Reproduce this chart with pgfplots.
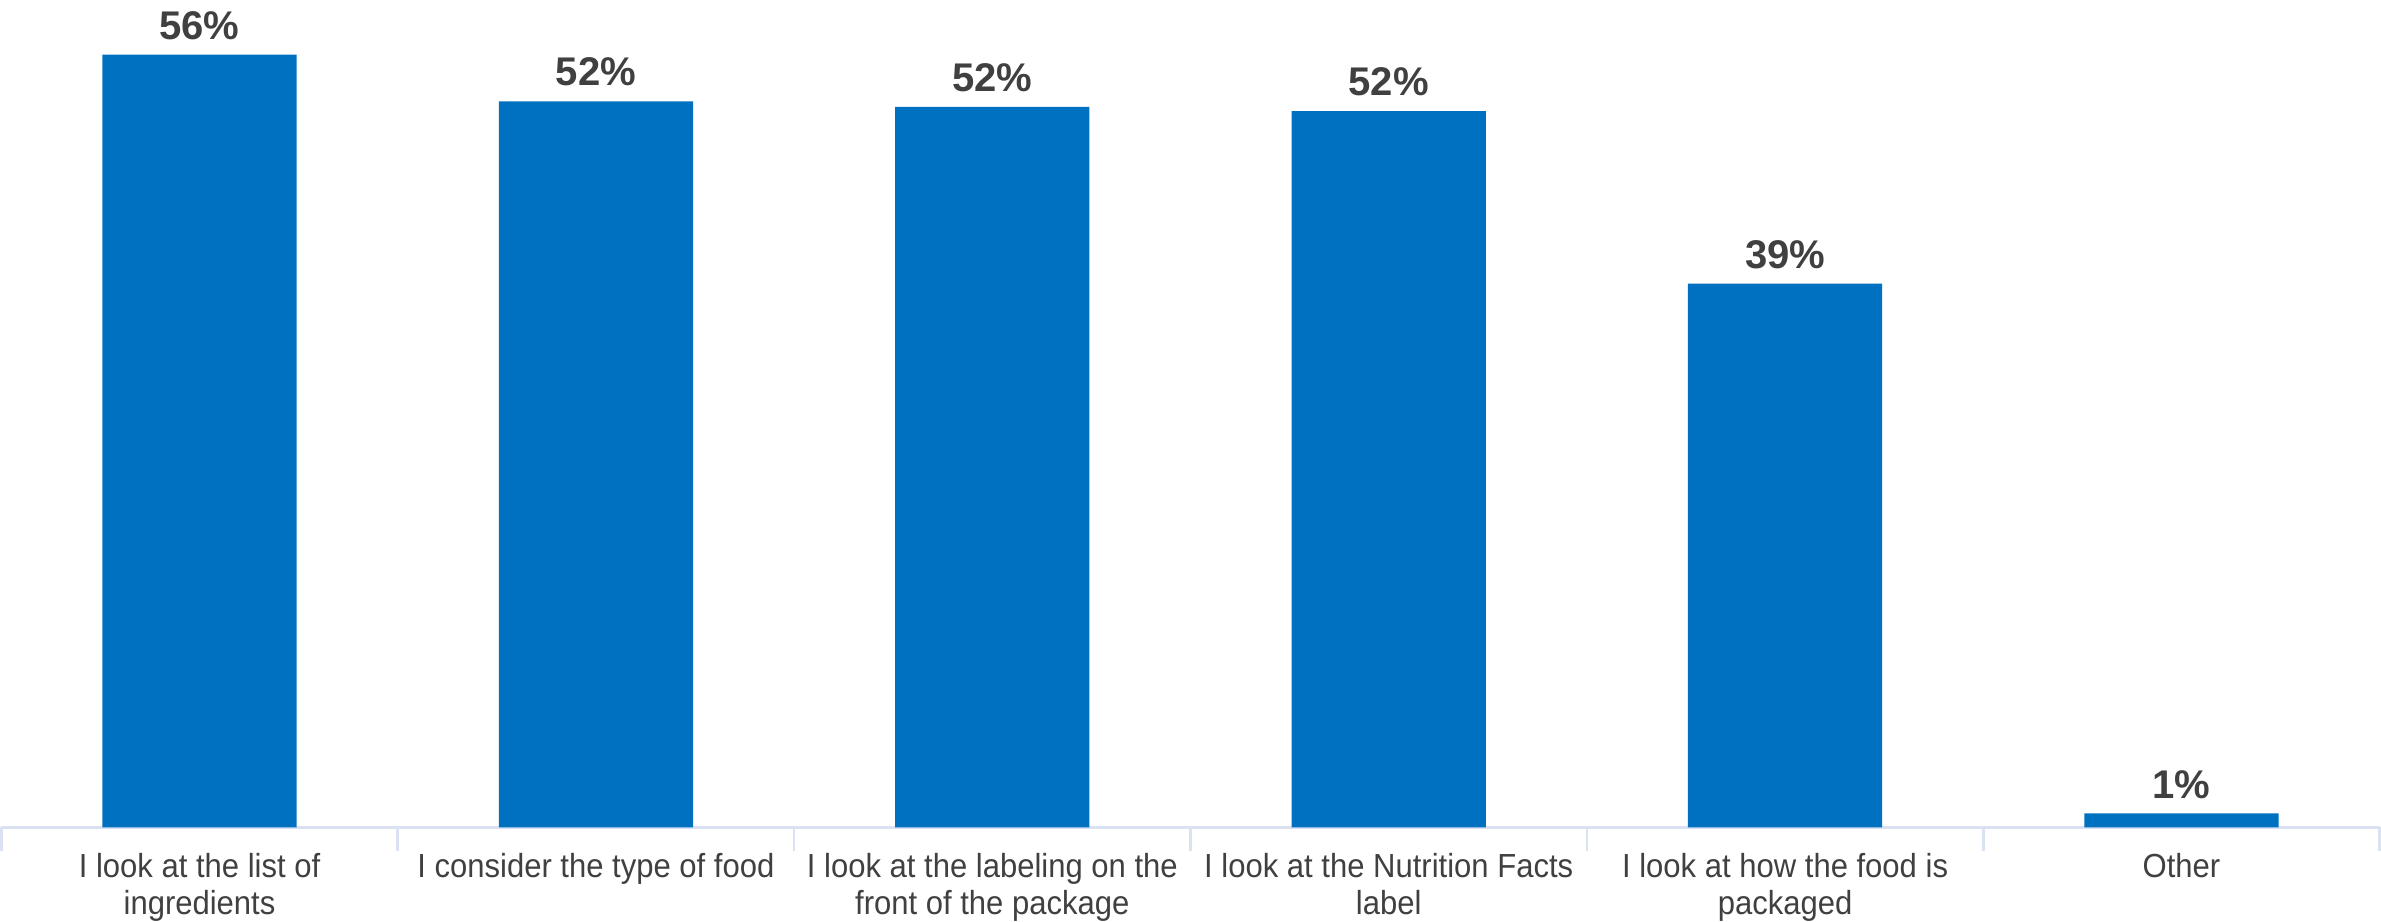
\documentclass[border=0pt]{standalone}
\usepackage{pgfplots}
\pgfplotsset{compat=1.18}
\usepackage{pgfplotstable}
\usepackage{fontspec}
\setmainfont[FakeStretch=0.93]{Liberation Sans}
\newfontfamily\labfont{Liberation Sans}
\definecolor{barblue}{HTML}{0070C0}
\definecolor{txt}{HTML}{404040}
\definecolor{axisc}{HTML}{D9E1F2}
\pgfplotstableread{
x y lab
0 56.0 56
1 52.6 52
2 52.2 52
3 51.9 52
4 39.4 39
5 1.0 1
}\datatable
\begin{document}
\begin{tikzpicture}
\begin{axis}[
  scale only axis,
  width=713pt, height=248.2pt,
  xmin=-0.5, xmax=5.5,
  ymin=0, ymax=60,
  axis y line=none,
  axis x line*=bottom,
  x axis line style={axisc, line width=0.8pt, -},
  xtick={0,1,2,3,4,5},
  major tick length=0pt,
  minor xtick={-0.5,0.5,1.5,2.5,3.5,4.5,5.5},
  minor tick length=7pt,
  tick align=outside,
  minor tick style={axisc, line width=0.8pt},
  xticklabels={{I look at the list of\\ingredients},{I consider the type of food},{I look at the labeling on the\\front of the package},{I look at the Nutrition Facts\\label},{I look at how the food is\\packaged},{Other}},
  xticklabel style={align=center, font=\fontsize{10}{11}\selectfont, text=txt, inner sep=0pt, yshift=-7.6pt, anchor=north},
  clip=false,
  /pgf/number format/assume math mode=true,
  nodes near coords={\pgfmathprintnumber[fixed,precision=0]{\pgfplotspointmeta}\%},
  every node near coord/.append style={font=\labfont\fontsize{12}{14}\selectfont\bfseries, text=txt, anchor=south, yshift=1pt},
  point meta=explicit,
]
\addplot[ybar, bar width=0.49, fill=barblue, draw=none] table[x=x, y=y, meta=lab] {\datatable};
\end{axis}
\end{tikzpicture}
\end{document}
